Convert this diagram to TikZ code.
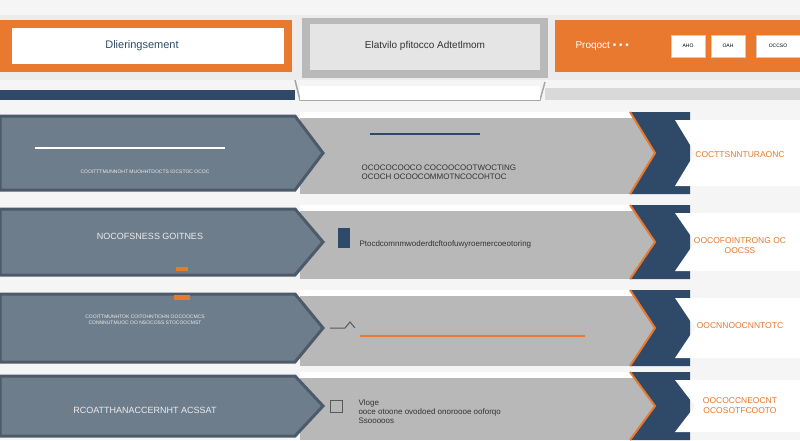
\documentclass[tikz,border=0pt]{standalone}
\usepackage{fontspec}
\setmainfont{Liberation Sans}
\definecolor{slate}{HTML}{6E7D8C}
\definecolor{slated}{HTML}{4C5A69}
\definecolor{navyc}{HTML}{2E4A68}
\definecolor{orng}{HTML}{E8792E}
\definecolor{bandc}{HTML}{B8B8B8}
\begin{document}
\begin{tikzpicture}[x=1pt,y=-1pt,
 lefttxt/.style={font=\fontsize{9}{10}\selectfont,text=white!85!gray},
 midtxt/.style={font=\fontsize{8}{9}\selectfont,text=black!80,anchor=west},
 righttxt/.style={font=\fontsize{8.5}{10}\selectfont,text=orng,align=center},
 chev/.style={fill=slate,draw=slated,line width=3pt},
 band/.style={fill=bandc},
 navy/.style={fill=navyc},
 tag/.style={fill=white,draw=gray!40}]
\useasboundingbox (0,0) rectangle (800,440);
\fill[gray!8] (0,0) rectangle (800,440);
% header
\fill[gray!15] (0,15) rectangle (800,80);
\fill[orng] (0,20) rectangle (292,72);
\fill[white] (12,28) rectangle (284,64);
\node[font=\fontsize{11}{12}\selectfont,text=navyc] (h1) at (142,46) {Dlieringsement};
\fill[gray!55] (302,18) rectangle (548,78);
\fill[gray!20] (310,24) rectangle (540,70);
\node[font=\fontsize{10}{12}\selectfont,text=black!80] (h2) at (425,46) {Elatvilo pfitocco Adtetlmom};
\fill[orng] (555,20) rectangle (800,72);
\node[font=\fontsize{10}{12}\selectfont,text=white,anchor=west] (h3) at (572,46) {Proqoct • • •};
\node[tag,minimum width=34,minimum height=22,font=\tiny] (t1) at (688,46) {AHO};
\node[tag,minimum width=34,minimum height=22,font=\tiny] (t2) at (728,46) {OAH};
\node[tag,minimum width=44,minimum height=22,font=\tiny] (t3) at (778,46) {OCCSO};
% stripes
\fill[navyc] (0,90) rectangle (295,100);
\draw[gray!70,line width=1.5pt] (295,80) -- (300,100) -- (540,100) -- (545,82);
\fill[white] (300,86) rectangle (540,100);
\fill[gray!30] (545,88) rectangle (800,100);
% rows
\foreach \y/\h in {112/82,205/74,290/76,372/68}{
 \fill[band] (300,\y) rectangle (660,\y+\h);
 \fill[white] (300,\y) rectangle (660,\y+6);
 \filldraw[chev] (0,\y+4) -- (295,\y+4) -- (323,\y+\h/2) -- (295,\y+\h-4) -- (0,\y+\h-4) -- cycle;
 \fill[navy] (630,\y) -- (690,\y) -- (690,\y+\h) -- (630,\y+\h) -- (655,\y+\h/2) -- cycle;
 \draw[orng,line width=2pt] (630,\y) -- (655,\y+\h/2) -- (630,\y+\h);
 \fill[white] (675,\y+8) -- (800,\y+8) -- (800,\y+\h-8) -- (675,\y+\h-8) -- (695,\y+\h/2) -- cycle;
}
\draw[white,line width=1.5pt] (35,148) -- (225,148);
\node[lefttxt,font=\tiny] (l1) at (145,172) {COOITTTMUNNOHT MUOHHTDOCTS IOCSTOC OCOC};
\node[lefttxt] (l2) at (150,236) {NOCOFSNESS GOITNES};
\node[lefttxt,font=\tiny,align=center] (l3) at (145,320) {COOITTMUNHTOK COITOHNTIOHN OOCOOCMCS\\CONNNUTMUOC OO NSOCOSS STOCOOCMST};
\node[lefttxt] (l4) at (145,410) {RCOATTHANACCERNHT ACSSAT};
\draw[navyc,line width=2pt] (370,134) -- (480,134);
\node[midtxt,align=left] (m1) at (358,172) {OCOCOCOOCO COCOOCOOTWOCTING\\OCOCH OCOOCOMMOTNCOCOHTOC};
\fill[navyc] (338,228) rectangle (350,248);
\node[midtxt] (m2) at (356,244) {Ptocdcomnmwoderdtcftoofuwyroemercoeotoring};
\draw[orng,line width=1.5pt] (360,336) -- (585,336);
\draw[gray!70!black,line width=1pt] (330,328) -- (345,328) -- (350,322) -- (355,328);
\draw[gray!70!black] (330,400) rectangle (342,412);
\node[midtxt,align=left] (m4) at (355,412) {Vloge\\ooce otoone ovodoed onoroooe ooforqo\\Ssooooos};
\node[righttxt] (r1) at (740,155) {COCTTSNNTURAONC};
\node[righttxt] (r2) at (740,246) {OOCOFOINTRONG OC\\OOCSS};
\node[righttxt] (r3) at (740,326) {OOCNNOOCNNTOTC};
\node[righttxt] (r4) at (740,406) {OOCOCCNEOCNT\\OCOSOTFCOOTO};
\fill[orng] (176,267) rectangle (188,271);
\fill[orng] (174,295) rectangle (190,300);
\end{tikzpicture}
\end{document}
